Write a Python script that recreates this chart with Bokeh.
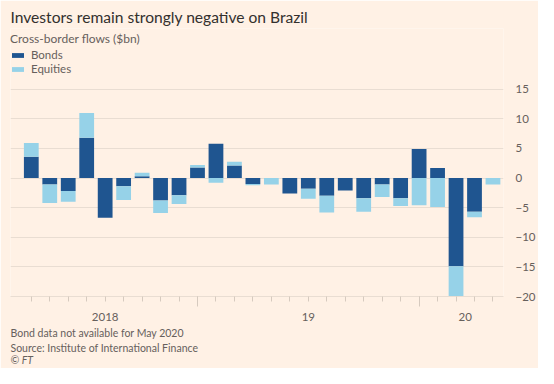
import numpy as np
from bokeh.plotting import figure
from bokeh.models import (Range1d, FixedTicker, LinearAxis, Legend, LegendItem,
                          Title, ColumnDataSource)
from bokeh.embed import file_html
from bokeh.resources import INLINE

# ---- data (Apr 2018 .. May 2020, $bn) ----
months = ["Apr 18", "May 18", "Jun 18", "Jul 18", "Aug 18", "Sep 18", "Oct 18", "Nov 18", "Dec 18",
          "Jan 19", "Feb 19", "Mar 19", "Apr 19", "May 19", "Jun 19", "Jul 19", "Aug 19", "Sep 19",
          "Oct 19", "Nov 19", "Dec 19", "Jan 20", "Feb 20", "Mar 20", "Apr 20", "May 20"]
bonds = [3.6, -1.1, -2.2, 6.8, -6.7, -1.4, 0.3, -3.8, -2.9,
         1.8, 5.8, 2.1, -1.0, 0.0, -2.6, -1.8, -3.0, -2.1,
         -3.4, -1.1, -3.4, 4.9, 1.7, -14.9, -5.7, np.nan]
equities = [2.3, -3.1, -1.8, 4.2, 0.0, -2.3, 0.6, -2.1, -1.5,
            0.4, -0.8, 0.65, -0.2, -1.1, 0.0, -1.7, -2.8, 0.0,
            -2.3, -2.1, -1.3, -4.6, -4.9, -5.1, -0.9, -1.1]
year_labels = ["2018", "19", "20"]
year_label_pos = [4, 15, 23.5]
year_starts = [9, 21]
y_ticks = [-20, -15, -10, -5, 0, 5, 10, 15]

BG = "#fff1e5"
GRID = "#e9ddd2"
TICK = "#d6cabf"
TXT = "#66605c"
DARK = "#1f5590"
LIGHT = "#96d2e8"
FONT = "Lato"

x = np.arange(len(months))
b = np.nan_to_num(np.array(bonds, dtype=float))
e = np.array(equities, dtype=float)
e_bottom = np.where(np.sign(e) == np.sign(b), b, 0.0)
e_top = e_bottom + e

src = ColumnDataSource(dict(x=x, b=b, eb=e_bottom, et=e_top))

p = figure(width=538, height=368, output_backend="svg", toolbar_location=None,
           x_range=Range1d(-1.126, 25.57), y_range=Range1d(-20, 25.25),
           y_axis_location="right", min_border_left=10, min_border_right=28,
           min_border_top=28, min_border_bottom=72)
p.background_fill_color = BG
p.border_fill_color = BG
p.outline_line_color = None

r_b = p.vbar(x="x", bottom=0, top="b", width=0.8, source=src, fill_color=DARK, line_color=None)
r_e = p.vbar(x="x", bottom="eb", top="et", width=0.8, source=src, fill_color=LIGHT, line_color=None)

# title
p.title.text = "Investors remain strongly negative on Brazil"
p.title.text_font = FONT
p.title.text_font_size = "15.6px"
p.title.text_font_style = "normal"
p.title.text_color = "#33302e"
p.title.offset = 0
p.title.standoff = 6

# y axis (right)
ya = p.yaxis[0]
ya.ticker = FixedTicker(ticks=y_ticks)
ya.axis_line_color = None
ya.major_tick_line_color = None
ya.minor_tick_line_color = None
ya.major_label_standoff = 6
ya.major_label_text_font = FONT
ya.major_label_text_font_size = "11.5px"
ya.major_label_text_color = TXT
p.ygrid.ticker = FixedTicker(ticks=y_ticks)
p.ygrid.grid_line_color = GRID
p.xgrid.grid_line_color = None

# x axis: ticks
xa = p.xaxis[0]
xa.ticker = FixedTicker(ticks=year_starts, minor_ticks=list(range(len(months))))
xa.axis_line_color = GRID
xa.major_tick_line_color = TICK
xa.minor_tick_line_color = TICK
xa.major_tick_in = 0
xa.major_tick_out = 10
xa.minor_tick_in = 0
xa.minor_tick_out = 5
xa.major_label_overrides = {t: "" for t in year_starts}
xa.major_label_standoff = 0

# x axis: year labels
xa2 = LinearAxis(ticker=FixedTicker(ticks=year_label_pos, minor_ticks=[]),
                 major_label_overrides={pos: lab for pos, lab in zip(year_label_pos, year_labels)})
xa2.axis_line_color = None
xa2.major_tick_line_color = None
xa2.minor_tick_line_color = None
xa2.major_label_standoff = 0
xa2.major_label_text_font = FONT
xa2.major_label_text_font_size = "11.5px"
xa2.major_label_text_color = TXT
p.add_layout(xa2, "below")

# footer
for txt, style, so in [("Bond data not available for May 2020", "normal", 3),
                       ("Source: Institute of International Finance", "normal", -2),
                       ("\u00a9 FT", "italic", -2)]:
    t = Title(text=txt, align="left", text_font=FONT, text_font_size="10.5px",
              text_font_style=style, text_color=TXT, offset=0, standoff=so)
    p.add_layout(t, "below")

# legend
legend = Legend(items=[LegendItem(label="Bonds", renderers=[r_b]),
                       LegendItem(label="Equities", renderers=[r_e])],
                location=(0, 221), title="Cross-border flows ($bn)")
legend.title_text_font = FONT
legend.title_text_font_size = "12px"
legend.title_text_font_style = "normal"
legend.title_text_color = TXT
legend.title_standoff = 2
legend.label_text_font = FONT
legend.label_text_font_size = "11.5px"
legend.label_text_color = TXT
legend.glyph_width = 15
legend.glyph_height = 6
legend.label_height = 12
legend.label_standoff = 6
legend.spacing = 1
legend.padding = 0
legend.margin = 0
legend.border_line_color = None
legend.background_fill_alpha = 0
p.add_layout(legend, "center")

open("out.html", "w").write(file_html(p, INLINE))
